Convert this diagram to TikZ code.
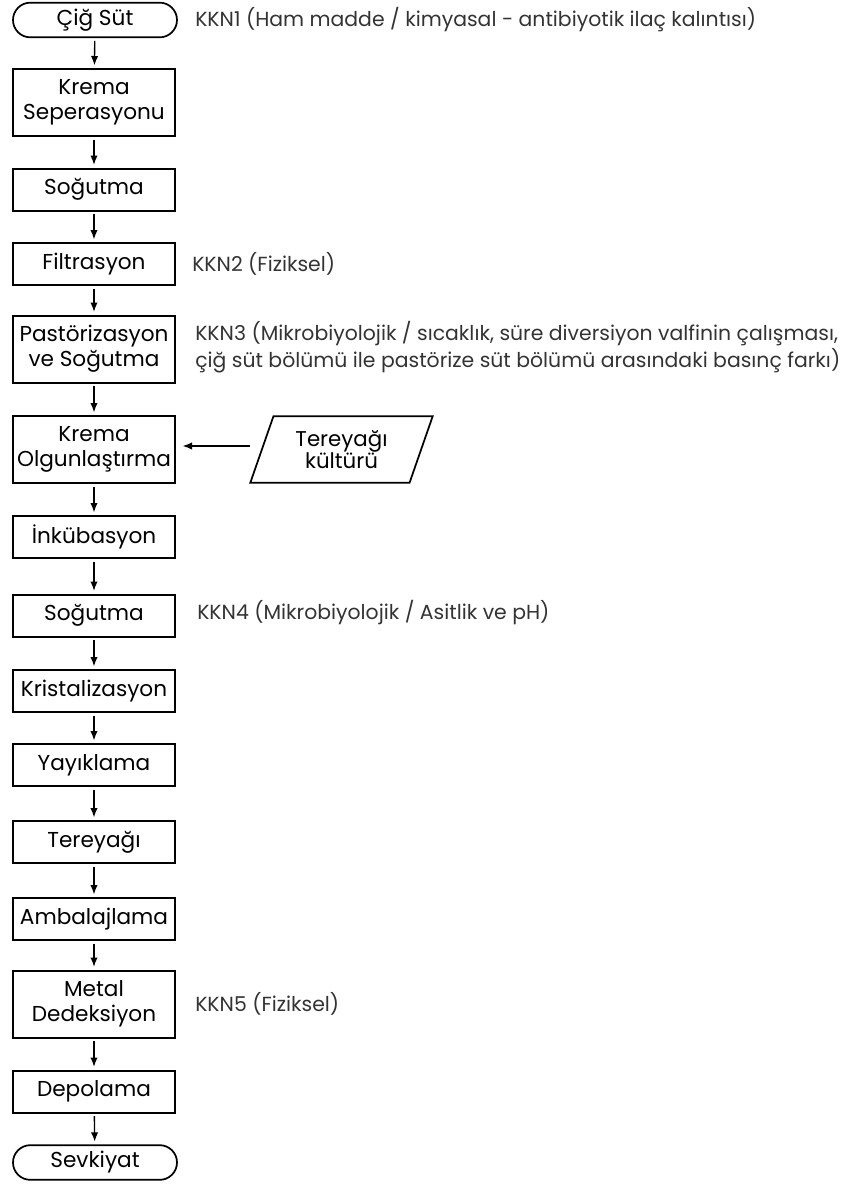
\documentclass[tikz,border=0pt]{standalone}
\usepackage{fontspec}
\setmainfont{Poppins}
\usetikzlibrary{shapes.geometric,shapes.misc,arrows.meta}
\begin{document}
\begin{tikzpicture}[x=0.75pt,y=-0.75pt,
  stepbox/.style={draw, line width=1.5pt, minimum width=121.5pt, minimum height=31.5pt, inner sep=0pt, align=center, font=\fontsize{16.2}{19}\selectfont},
  tallbox/.style={stepbox, minimum height=50.25pt},
  termbox/.style={draw, line width=1.3pt, rounded rectangle, minimum width=123pt, minimum height=26pt, inner sep=0pt, font=\fontsize{16.2}{19}\selectfont},
  inbox/.style={draw, line width=1.3pt, trapezium, trapezium left angle=68, trapezium right angle=112, trapezium stretches=true, minimum width=137pt, minimum height=50pt, inner sep=0pt, align=center, font=\fontsize{16}{17}\selectfont},
  kkn/.style={anchor=west, inner sep=0pt, align=left, text=black!80, font=\fontsize{15.3}{20.5}\selectfont},
  flow/.style={-{Latex[length=7pt,width=5.5pt]}, line width=1pt, shorten <=2pt, shorten >=2pt}]
\useasboundingbox (0,0) rectangle (853,1185);
\node[termbox] (n1) at (95,20) {Çiğ Süt};
\node[tallbox] (n2) at (94,102.5) {Krema\\Seperasyonu};
\node[stepbox] (n3) at (94,189.5) {Soğutma};
\node[stepbox] (n4) at (94,264) {Filtrasyon};
\node[tallbox] (n5) at (94,349) {Pastörizasyon\\ve Soğutma};
\node[tallbox] (n6) at (94,449.5) {Krema\\Olgunlaştırma};
\node[stepbox] (n7) at (94,537) {İnkübasyon};
\node[stepbox] (n8) at (94,615.5) {Soğutma};
\node[stepbox] (n9) at (94,691) {Kristalizasyon};
\node[stepbox] (n10) at (94,765) {Yayıklama};
\node[stepbox] (n11) at (94,842) {Tereyağı};
\node[stepbox] (n12) at (94,919) {Ambalajlama};
\node[tallbox] (n13) at (94,1004) {Metal\\Dedeksiyon};
\node[stepbox] (n14) at (94,1091.5) {Depolama};
\node[termbox] (n15) at (95,1162.5) {Sevkiyat};
\node[inbox] (cult) at (341.5,449.5) {Tereyağı\\kültürü};
\draw[flow] (n1) -- (n2);
\draw[flow] (n2) -- (n3);
\draw[flow] (n3) -- (n4);
\draw[flow] (n4) -- (n5);
\draw[flow] (n5) -- (n6);
\draw[flow] (n6) -- (n7);
\draw[flow] (n7) -- (n8);
\draw[flow] (n8) -- (n9);
\draw[flow] (n9) -- (n10);
\draw[flow] (n10) -- (n11);
\draw[flow] (n11) -- (n12);
\draw[flow] (n12) -- (n13);
\draw[flow] (n13) -- (n14);
\draw[flow] (n14) -- (n15);
\draw[flow, shorten <=8pt, shorten >=5pt] (cult.west |- 0,446) -- (n6.east |- 0,446);
\node[kkn] (k1) at (195,20) {KKN1 (Ham madde / kimyasal - antibiyotik ilaç kalıntısı)};
\node[kkn] (k2) at (192,264) {KKN2 (Fiziksel)};
\node[kkn] (k3) at (195,347) {KKN3 (Mikrobiyolojik / sıcaklık, süre diversiyon valfinin çalışması,\\çiğ süt bölümü ile pastörize süt bölümü arasındaki basınç farkı)};
\node[kkn] (k4) at (197,613) {KKN4 (Mikrobiyolojik / Asitlik ve pH)};
\node[kkn] (k5) at (195,1004) {KKN5 (Fiziksel)};
\end{tikzpicture}
\end{document}
